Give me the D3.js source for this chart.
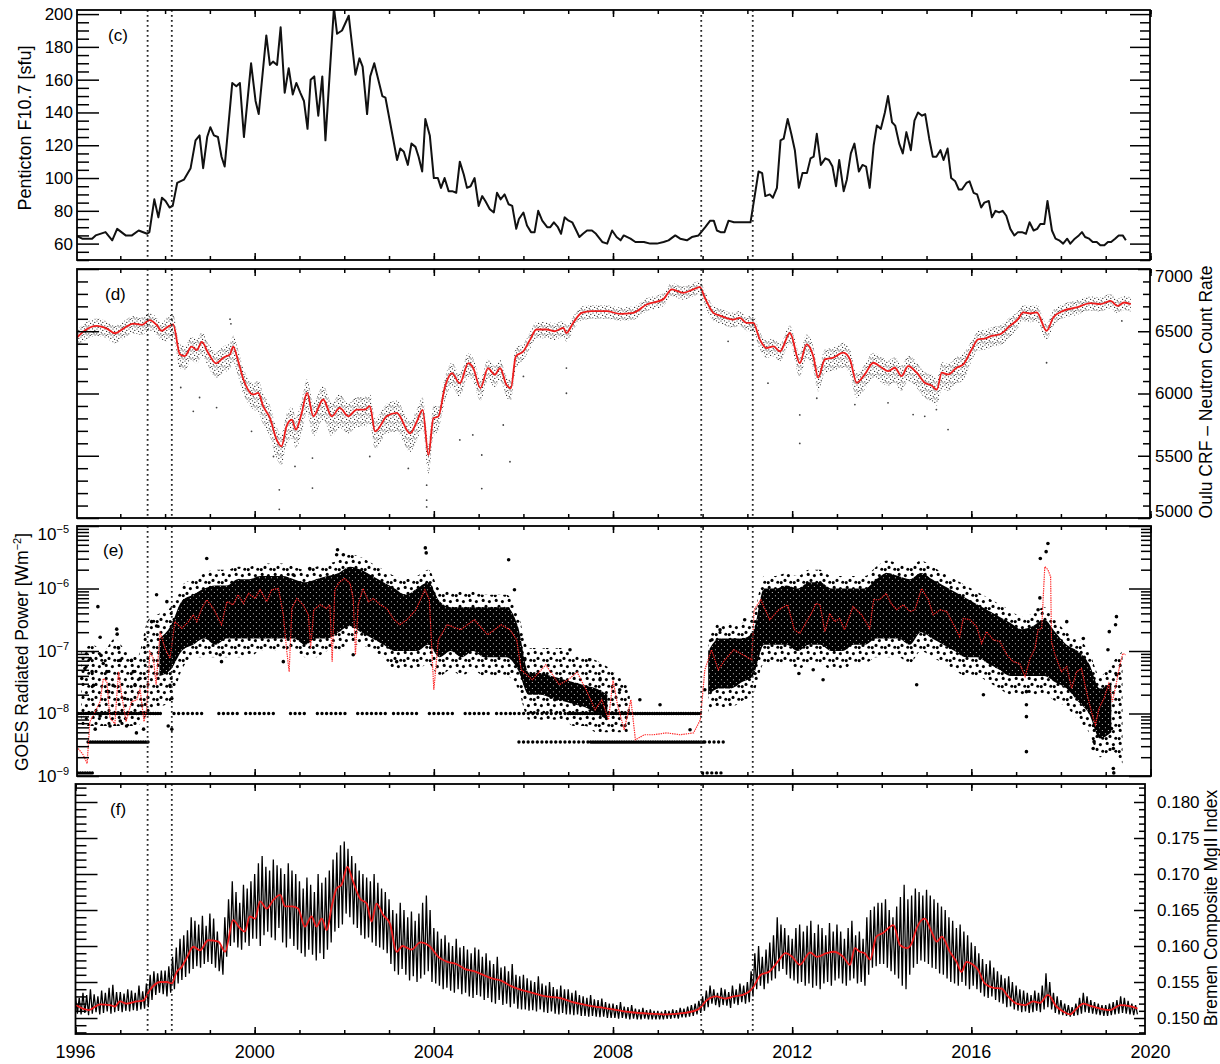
<!DOCTYPE html>
<html>
<head>
<meta charset="utf-8">
<script src="https://cdn.jsdelivr.net/npm/d3@7"></script>
<style>
  body { margin: 0; background: #fff; }
  text { font-family: "Liberation Sans", Arial, Helvetica, sans-serif; fill: #000; }
</style>
</head>
<body>
<svg id="chart" width="1220" height="1064"></svg>
<script>
// ---- data ----
const yearTicks = [1996, 2000, 2004, 2008, 2012, 2016, 2020];
const eventYears = [1997.61, 1998.15, 2009.97, 2011.12];

// (c) Penticton F10.7, monthly means [year, sfu]
const f107 = [
  [1996.00,65],[1996.15,63],[1996.37,63],[1996.45,65],[1996.67,67],[1996.82,62],[1996.93,69],[1997.12,65],[1997.26,65],[1997.41,68],
  [1997.60,66],[1997.65,67],[1997.76,87],[1997.85,76],[1997.93,88],[1998.01,86],[1998.10,82],[1998.17,83],[1998.27,97],[1998.42,99],
  [1998.57,106],[1998.68,123],[1998.77,126],[1998.85,106],[1998.94,125],[1999.01,131],[1999.09,126],[1999.18,125],[1999.26,113],[1999.33,107],
  [1999.50,158],[1999.59,156],[1999.67,158],[1999.76,125],[1999.92,170],[2000.02,147],[2000.09,139],[2000.26,187],[2000.34,169],[2000.41,171],
  [2000.50,169],[2000.58,192],[2000.67,152],[2000.76,167],[2000.85,151],[2000.93,158],[2001.02,152],[2001.10,147],[2001.18,130],[2001.25,160],
  [2001.33,162],[2001.42,138],[2001.51,162],[2001.58,123],[2001.77,204],[2001.84,188],[2001.95,190],[2002.10,199],[2002.25,163],[2002.34,173],
  [2002.41,168],[2002.51,139],[2002.58,162],[2002.67,170],[2002.85,150],[2002.92,149],[2003.18,111],[2003.25,118],[2003.33,116],[2003.42,108],
  [2003.50,121],[2003.59,119],[2003.66,113],[2003.74,104],[2003.81,136],[2003.91,126],[2004.00,100],[2004.09,100],[2004.16,94],[2004.24,100],
  [2004.33,92],[2004.41,92],[2004.50,91],[2004.58,110],[2004.67,102],[2004.74,94],[2004.82,95],[2004.91,100],[2005.00,83],[2005.08,89],
  [2005.15,86],[2005.25,81],[2005.34,79],[2005.41,91],[2005.49,87],[2005.58,90],[2005.67,84],[2005.75,83],[2005.84,69],[2005.90,75],
  [2006.00,79],[2006.08,71],[2006.17,67],[2006.25,67],[2006.33,80],[2006.42,74],[2006.53,70],[2006.60,70],[2006.68,73],[2006.77,70],
  [2006.84,66],[2006.92,76],[2007.01,74],[2007.09,73],[2007.18,68],[2007.25,64],[2007.33,66],[2007.42,68],[2007.53,68],[2007.62,66],
  [2007.76,61],[2007.87,60],[2007.98,68],[2008.08,64],[2008.17,62],[2008.24,65],[2008.39,63],[2008.50,61],[2008.69,61],[2008.83,60],
  [2008.98,60],[2009.13,61],[2009.24,62],[2009.39,65],[2009.50,63],[2009.65,62],[2009.76,64],[2009.91,65],[2010.06,70],[2010.17,74],
  [2010.25,74],[2010.32,68],[2010.40,67],[2010.49,67],[2010.58,74],[2010.70,73],[2010.88,73],[2010.98,73],[2011.07,73],[2011.14,85],
  [2011.25,104],[2011.33,103],[2011.40,89],[2011.50,90],[2011.57,88],[2011.66,94],[2011.74,123],[2011.81,124],[2011.90,136],[2011.98,127],
  [2012.06,117],[2012.15,94],[2012.23,103],[2012.33,103],[2012.41,112],[2012.48,113],[2012.55,127],[2012.64,108],[2012.74,112],[2012.82,111],
  [2012.90,107],[2012.98,95],[2013.05,111],[2013.15,92],[2013.22,99],[2013.31,115],[2013.39,121],[2013.49,104],[2013.57,108],[2013.65,107],
  [2013.73,94],[2013.82,120],[2013.89,132],[2013.98,130],[2014.07,140],[2014.14,150],[2014.23,134],[2014.30,132],[2014.39,121],[2014.47,115],
  [2014.55,128],[2014.65,117],[2014.73,135],[2014.81,140],[2014.90,138],[2014.97,139],[2015.06,124],[2015.14,113],[2015.22,113],[2015.31,117],
  [2015.38,111],[2015.47,118],[2015.55,100],[2015.64,98],[2015.72,93],[2015.79,93],[2015.89,97],[2015.96,98],[2016.05,91],[2016.13,90],
  [2016.22,82],[2016.29,85],[2016.39,86],[2016.46,76],[2016.54,80],[2016.62,79],[2016.70,80],[2016.78,77],[2016.87,69],[2016.96,65],
  [2017.04,67],[2017.13,67],[2017.22,66],[2017.30,73],[2017.39,68],[2017.47,69],[2017.54,72],[2017.63,72],[2017.70,86],[2017.80,68],
  [2017.88,63],[2017.96,62],[2018.05,60],[2018.14,63],[2018.21,60],[2018.31,63],[2018.40,65],[2018.47,67],[2018.54,64],[2018.63,63],
  [2018.71,61],[2018.80,61],[2018.88,59],[2018.97,59],[2019.05,61],[2019.12,61],[2019.21,63],[2019.29,65],[2019.38,65],[2019.45,62]
];

// (d) Oulu neutron monitor, smoothed count rate [year, counts]
const oulu = [
  [1996.03,6449],[1996.25,6516],[1996.47,6543],[1996.70,6521],[1996.88,6484],[1997.07,6521],[1997.29,6562],[1997.48,6551],[1997.65,6589],[1997.81,6551],
  [1997.92,6503],[1998.04,6530],[1998.18,6556],[1998.33,6315],[1998.44,6301],[1998.59,6376],[1998.71,6349],[1998.82,6414],[1998.96,6328],[1999.14,6242],
  [1999.30,6288],[1999.45,6315],[1999.52,6376],[1999.63,6261],[1999.75,6113],[1999.97,5992],[2000.08,6005],[2000.19,5898],[2000.34,5804],[2000.49,5629],
  [2000.60,5575],[2000.71,5736],[2000.83,5790],[2000.92,5710],[2001.05,5844],[2001.17,6005],[2001.31,5817],[2001.53,5952],[2001.72,5817],[2001.90,5884],
  [2002.09,5817],[2002.28,5871],[2002.46,5871],[2002.57,5898],[2002.69,5696],[2002.95,5817],[2003.17,5844],
  [2003.47,5680],[2003.62,5774],[2003.75,5868],[2003.88,5505],[2003.99,5801],[2004.10,5815],[2004.25,6056],[2004.40,6164],[2004.58,6083],[2004.77,6244],
  [2004.88,6204],[2005.04,6043],[2005.21,6204],[2005.36,6151],[2005.48,6204],[2005.62,6070],[2005.72,6043],[2005.83,6298],[2006.00,6339],[2006.15,6433],
  [2006.29,6514],[2006.52,6514],[2006.70,6500],[2006.89,6527],[2006.96,6486],[2007.11,6567],[2007.30,6648],[2007.52,6661],[2007.86,6661],[2008.15,6640],
  [2008.45,6648],[2008.75,6715],[2009.12,6756],[2009.31,6836],[2009.57,6809],[2009.79,6836],[2009.94,6855],[2010.05,6769],[2010.24,6648],[2010.42,6621],
  [2010.68,6594],[2010.83,6607],[2010.98,6567],[2011.13,6567],[2011.28,6433],[2011.43,6365],[2011.58,6379],[2011.73,6339],[2011.95,6486],[2012.17,6244],
  [2012.32,6395],[2012.47,6301],[2012.58,6127],[2012.73,6274],[2012.92,6288],[2013.14,6328],[2013.29,6274],[2013.44,6086],[2013.62,6153],[2013.81,6247],
  [2014.00,6207],[2014.14,6180],[2014.29,6207],[2014.44,6140],[2014.59,6220],[2014.78,6167],[2014.96,6086],[2015.11,6065],[2015.23,6032],[2015.34,6167],
  [2015.48,6153],[2015.67,6207],[2015.82,6234],[2016.01,6355],[2016.15,6435],[2016.30,6441],[2016.45,6462],[2016.64,6476],[2016.86,6543],[2017.04,6597],
  [2017.16,6651],[2017.31,6643],[2017.46,6651],[2017.68,6503],[2017.83,6610],[2018.05,6664],[2018.35,6691],[2018.66,6726],[2018.88,6718],[2019.11,6744],
  [2019.26,6704],[2019.41,6731],[2019.56,6718]
];
// spread of the daily cloud above / below the smoothed curve, per calendar year 1996..2019
const ouluSpreadUp   = [60,60,80,90,100,110,100,100,80,70,60,50,50,50,55,60,80,80,85,85,70,60,55,55];
const ouluSpreadDown = [80,80,110,120,150,160,140,150,110,100,70,60,55,55,65,80,110,120,120,130,90,70,60,60];
// isolated daily values well off the cloud
const ouluOutliers = [
  [1998.33,6220],[1998.35,6048],[1998.63,5857],[1998.77,5968],[1999.15,5887],[1999.45,6597],[1999.47,6560],[1999.93,5696],[2000.42,5494],[2000.55,5226],
  [2000.55,5070],[2000.90,5414],[2001.29,5481],[2001.29,5240],[2002.57,5494],[2003.43,5398],[2003.84,5143],[2003.84,5089],[2003.84,5264],[2004.58,5627],
  [2005.07,5506],[2005.07,5236],[2004.87,5667],[2005.70,5452],[2005.55,5747],[2006.96,6002],[2006.96,6204],[2006.00,6137],[2010.57,6419],[2011.46,6083],
  [2012.17,5599],[2012.17,5828],[2012.55,5962],[2013.40,5911],[2014.14,5925],[2014.70,5831],[2014.96,5817],[2015.48,5710],[2015.22,5871],[2017.68,6247],
  [2019.36,6583]
];

// (e) GOES radiated power, smoothed curve [year, log10 W m^-2]
const goesSmooth = [
  [1996.06,-8.56],[1996.17,-8.66],[1996.26,-8.80],[1996.32,-8.13],[1996.44,-7.97],[1996.55,-7.81],[1996.62,-7.44],[1996.70,-7.49],[1996.77,-8.08],[1996.88,-8.16],
  [1996.96,-7.33],[1997.03,-7.70],[1997.13,-8.13],[1997.25,-7.81],[1997.37,-7.78],[1997.44,-7.60],[1997.53,-8.13],[1997.59,-7.92],[1997.66,-7.01],[1997.74,-7.12],
  [1997.80,-7.54],[1997.89,-6.69],[1998.00,-6.96],[1998.11,-7.12],[1998.22,-6.53],[1998.37,-6.64],[1998.52,-6.53],[1998.63,-6.42],[1998.71,-6.53],[1998.82,-6.32],
  [1998.93,-6.18],[1999.08,-6.32],[1999.26,-6.58],[1999.38,-6.21],[1999.52,-6.26],[1999.63,-6.10],[1999.75,-6.24],[1999.86,-6.08],[2000.01,-6.16],[2000.12,-6.02],
  [2000.27,-6.21],[2000.38,-6.02],[2000.53,-6.00],[2000.64,-6.42],[2000.71,-6.96],[2000.77,-7.33],[2000.83,-6.32],[2000.94,-6.16],[2001.08,-6.26],[2001.20,-6.42],
  [2001.25,-6.96],[2001.32,-6.34],[2001.46,-6.26],[2001.61,-6.32],[2001.68,-6.26],[2001.73,-7.17],[2001.79,-6.02],[2001.90,-5.89],[2002.01,-5.84],[2002.13,-5.92],
  [2002.20,-6.16],[2002.25,-7.06],[2002.31,-6.26],[2002.42,-6.00],[2002.54,-6.21],[2002.65,-6.16],[2002.80,-6.26],[2002.95,-6.32],[2003.09,-6.48],[2003.24,-6.58],
  [2003.40,-6.50],[2003.60,-6.34],[2003.80,-6.02],[2003.90,-6.18],[2004.00,-7.62],[2004.10,-6.82],[2004.30,-6.58],[2004.60,-6.66],[2004.90,-6.50],[2005.20,-6.74],
  [2005.50,-6.58],[2005.70,-6.66],[2005.85,-6.82],[2005.95,-7.30],[2006.20,-7.46],[2006.50,-7.22],[2006.80,-7.54],[2007.00,-7.46],[2007.20,-7.34],[2007.40,-7.62],
  [2007.60,-7.94],[2007.75,-7.78],[2007.90,-8.10],[2008.00,-7.46],[2008.10,-7.86],[2008.25,-8.26],[2008.40,-7.78],[2008.50,-8.42],[2008.70,-8.34],[2008.90,-8.34],
  [2009.20,-8.31],[2009.50,-8.34],[2009.80,-8.31],[2009.95,-8.10],[2010.05,-7.30],[2010.20,-6.98],[2010.35,-7.30],[2010.50,-7.14],[2010.70,-6.98],[2010.90,-7.06],
  [2011.10,-7.14],[2011.15,-6.34],[2011.30,-6.18],[2011.50,-6.50],[2011.70,-6.34],[2011.90,-6.26],[2012.05,-6.66],[2012.17,-6.72],[2012.32,-6.53],[2012.43,-6.40],
  [2012.53,-6.24],[2012.62,-6.26],[2012.73,-6.69],[2012.84,-6.40],[2012.95,-6.53],[2013.06,-6.48],[2013.17,-6.66],[2013.36,-6.29],[2013.55,-6.42],[2013.73,-6.64],
  [2013.82,-6.18],[2013.95,-6.18],[2014.10,-6.08],[2014.21,-6.24],[2014.33,-6.34],[2014.48,-6.26],[2014.63,-6.37],[2014.74,-6.34],[2014.89,-6.00],[2015.04,-6.18],
  [2015.15,-6.42],[2015.30,-6.34],[2015.45,-6.37],[2015.59,-6.56],[2015.74,-6.77],[2015.82,-6.48],[2015.97,-6.50],[2016.12,-6.61],[2016.23,-6.88],[2016.34,-6.69],
  [2016.49,-6.82],[2016.64,-6.85],[2016.79,-7.06],[2016.93,-7.17],[2017.08,-7.20],[2017.20,-7.41],[2017.31,-7.12],[2017.42,-6.96],[2017.49,-6.66],[2017.57,-6.64],
  [2017.64,-5.65],[2017.71,-5.70],[2017.77,-5.81],[2017.79,-6.85],[2017.87,-7.06],[2018.01,-7.33],[2018.13,-7.25],[2018.24,-7.60],[2018.35,-7.33],[2018.46,-7.28],
  [2018.57,-7.65],[2018.68,-7.97],[2018.77,-8.18],[2018.85,-7.92],[2018.96,-7.76],[2019.07,-7.52],[2019.15,-7.81],[2019.23,-7.54],[2019.30,-7.28],[2019.38,-7.04],
  [2019.45,-7.06]
];
// daily cloud per quarter from 1996 Q1 (log10): thin outer fringe and dense core; null = none
const goesOuterLo = [
  -8.2,-8.2,-8.2,-8.2, -8.2,-8.2,-8.0,-7.9, -7.8,-7.3,-7.1,-7.1, -7.1,-7.1,-7.1,-7.1, -7.0,-7.0,-7.0,-7.0, -7.1,-7.1,-7.0,-7.0,
  -6.9,-6.9,-7.0,-7.1, -7.3,-7.3,-7.3,-7.2, -7.4,-7.3,-7.4,-7.3, -7.4,-7.4,-7.4,-7.6, -8.1,-8.1,-8.1,-8.1, -8.2,-8.2,-8.3,-8.3,
  -8.3,-8.3,null,null, null,null,null,null, -8.0,-7.9,-7.9,-7.8, -7.7,-7.2,-7.2,-7.2, -7.3,-7.2,-7.2,-7.3, -7.3,-7.2,-7.2,-7.1,
  -7.1,-7.1,-7.2,-7.0, -7.1,-7.2,-7.3,-7.4, -7.4,-7.5,-7.6,-7.7, -7.7,-7.7,-7.7,-7.8, -7.9,-8.1,-8.3,-8.7, -8.6,-8.8
];
const goesOuterHi = [
  -7.0,-6.9,-7.0,-6.8, -7.0,-7.1,-6.5,-6.4, -6.3,-5.95,-5.85,-5.75, -5.7,-5.7,-5.65,-5.65, -5.6,-5.6,-5.6,-5.65, -5.7,-5.65,-5.6,-5.55,
  -5.45,-5.5,-5.6,-5.7, -5.8,-5.85,-5.8,-5.7, -6.0,-6.05,-6.05,-6.05, -6.1,-6.1,-6.1,-6.4, -6.95,-6.95,-6.95,-6.95, -7.05,-7.1,-7.15,-7.25,
  -7.4,-7.6,null,null, null,null,null,null, -6.75,-6.55,-6.55,-6.55, -6.45,-5.8,-5.8,-5.75, -5.8,-5.7,-5.7,-5.8, -5.8,-5.8,-5.8,-5.65,
  -5.55,-5.6,-5.65,-5.55, -5.65,-5.75,-5.85,-5.95, -6.05,-6.15,-6.25,-6.35, -6.45,-6.4,-6.3,-6.5, -6.7,-6.8,-7.0,-7.4, -7.2,-7.0
];
const goesCoreLo = [
  null,null,null,null, null,null,null,-7.4, -7.3,-7.0,-6.9,-6.8, -6.9,-6.8,-6.8,-6.8, -6.8,-6.8,-6.8,-6.8, -6.9,-6.8,-6.8,-6.7,
  -6.6,-6.7,-6.8,-6.9, -7.0,-7.0,-7.0,-6.9, -7.1,-7.0,-7.1,-7.0, -7.1,-7.1,-7.1,-7.3, -7.7,-7.7,-7.75,-7.8, -7.85,-7.9,-8.0,-8.1,
  null,null,null,null, null,null,null,null, -7.7,-7.6,-7.6,-7.5, -7.4,-6.9,-6.9,-6.9, -7.0,-6.9,-6.9,-7.0, -7.0,-6.9,-6.9,-6.8,
  -6.8,-6.8,-6.9,-6.7, -6.8,-6.9,-7.0,-7.1, -7.1,-7.2,-7.3,-7.4, -7.4,-7.4,-7.4,-7.5, -7.6,-7.8,-8.0,-8.4, -8.3,null
];
const goesCoreHi = [
  null,null,null,null, null,null,null,-6.8, -6.6,-6.2,-6.1,-6.0, -5.95,-5.95,-5.85,-5.85, -5.8,-5.8,-5.8,-5.85, -5.9,-5.85,-5.8,-5.75,
  -5.65,-5.7,-5.8,-5.9, -6.0,-6.1,-6.0,-5.9, -6.2,-6.3,-6.3,-6.3, -6.3,-6.3,-6.3,-6.6, -7.35,-7.35,-7.4,-7.45, -7.5,-7.55,-7.6,-7.7,
  null,null,null,null, null,null,null,null, -7.0,-6.8,-6.8,-6.8, -6.7,-6.0,-6.0,-5.95, -6.0,-5.9,-5.9,-6.0, -6.0,-6.0,-6.0,-5.85,
  -5.75,-5.8,-5.85,-5.75, -5.85,-5.95,-6.05,-6.15, -6.25,-6.35,-6.45,-6.55, -6.65,-6.6,-6.5,-6.7, -6.9,-7.0,-7.2,-7.6, -7.5,null
];
// scattered daily values outside the dense cloud [year, log10]
const goesScatter = [
  [1996.50,-6.29],[1996.55,-6.78],[1996.57,-7.07],[1996.33,-7.12],[1996.37,-7.33],[1996.40,-7.55],[1996.62,-7.20],[1996.70,-7.33],[1996.74,-7.65],[1996.92,-6.65],
  [1996.93,-6.73],[1996.96,-6.95],[1997.00,-7.15],[1996.84,-7.55],[1997.10,-7.76],[1997.25,-7.15],[1997.29,-7.33],[1997.33,-7.55],[1997.44,-7.44],[1997.48,-7.87],
  [1997.14,-8.20],[1996.77,-8.20],[1996.55,-8.04],[1996.44,-8.25],[1997.52,-8.25],[1997.36,-8.31],[1997.00,-8.12],[1996.14,-7.44],[1996.21,-7.28],[1997.81,-6.10],
  [1997.70,-6.53],[1997.81,-6.60],[1998.04,-6.21],[1998.11,-7.55],[1998.15,-7.76],[1998.07,-8.20],[1998.15,-8.25],[1998.93,-5.52],[2000.86,-5.78],[2001.23,-5.68],
  [2001.83,-5.46],[2001.98,-5.46],[2001.85,-5.38],[1999.23,-7.06],[1999.26,-7.17],[2002.20,-7.06],[2003.17,-7.17],[2000.64,-7.17],[2003.81,-5.35],[2003.83,-5.43],
  [2005.67,-5.54],[2005.80,-6.02],[2006.03,-7.14],[2006.37,-7.62],[2006.70,-7.78],[2007.04,-6.98],[2007.48,-7.14],[2007.71,-7.46],[2008.15,-7.62],[2008.60,-7.78],
  [2009.05,-7.86],[2009.72,-8.26],[2010.05,-7.62],[2010.21,-6.82],[2010.39,-6.66],[2010.72,-6.82],[2010.94,-6.50],[2017.71,-5.28],[2017.54,-5.52],[2017.67,-5.41],
  [2017.53,-6.15],[2017.49,-6.34],[2017.23,-7.65],[2017.23,-7.86],[2017.23,-8.05],[2017.23,-8.61],[2014.78,-7.54],[2016.27,-7.70],[2012.69,-7.46],[2012.47,-7.30],
  [2012.15,-7.36],[2019.24,-6.45],[2019.22,-6.58],[2019.08,-6.69],[2019.05,-6.98],[2019.24,-7.38],[2019.13,-8.24],[2019.17,-8.56],[2019.17,-8.88],[2019.18,-8.95],
  [2018.72,-8.56],[2018.74,-8.45],[2018.13,-6.53],[2018.50,-6.80],[2018.52,-7.10]
];
// rows of values sitting on the instrument floor [from, to, log10]
const goesFloorDense = [
  [1996.02,1997.90,-8.0],[1996.28,1997.62,-8.456],[1996.00,1996.40,-8.95],[2007.00,2010.00,-8.0],[2007.50,2010.05,-8.456]
];
const goesFloorSparse = [
  [1998.20,1998.90,-8.0],[1999.20,1999.70,-8.0],[1999.80,2000.50,-8.0],[2000.80,2001.20,-8.0],[2001.40,2002.10,-8.0],[2002.30,2003.00,-8.0],
  [2003.10,2003.70,-8.0],[2003.90,2004.50,-8.0],[2004.70,2005.30,-8.0],[2005.40,2005.80,-8.0],[2005.80,2007.00,-8.0],[2005.90,2007.50,-8.456],
  [2010.05,2010.50,-8.456],[2010.00,2010.45,-8.95]
];

// (f) Bremen composite Mg II index: smoothed [year, index]
const mgSmooth = [
  [1996.01,.1518],[1996.29,.1511],[1996.55,.1519],[1996.77,.1518],[1996.88,.1516],[1996.99,.1523],[1997.14,.1520],[1997.37,.1523],[1997.51,.1524],[1997.66,.1539],
  [1997.89,.1550],[1998.04,.1550],[1998.15,.1548],[1998.26,.1564],[1998.37,.1571],[1998.48,.1583],[1998.63,.1599],[1998.78,.1594],[1998.96,.1608],[1999.19,.1606],
  [1999.34,.1592],[1999.52,.1636],[1999.67,.1625],[1999.78,.1620],[1999.89,.1641],[2000.01,.1638],[2000.12,.1662],[2000.27,.1652],[2000.42,.1664],[2000.57,.1671],
  [2000.68,.1655],[2000.83,.1655],[2000.97,.1652],[2001.12,.1627],[2001.27,.1641],[2001.38,.1627],[2001.50,.1638],[2001.61,.1622],[2001.72,.1655],[2001.83,.1680],
  [2001.94,.1685],[2002.07,.1710],[2002.20,.1689],[2002.35,.1666],[2002.50,.1659],[2002.61,.1634],[2002.72,.1659],[2002.87,.1643],[2003.02,.1631],[2003.17,.1592],
  [2003.30,.1600],[2003.50,.1595],[2003.70,.1605],[2003.90,.1600],[2004.10,.1585],[2004.30,.1578],[2004.50,.1575],[2004.70,.1568],[2004.90,.1565],[2005.10,.1560],
  [2005.30,.1555],[2005.50,.1552],[2005.70,.1545],[2005.90,.1540],[2006.20,.1535],[2006.50,.1530],[2006.80,.1528],[2007.10,.1522],[2007.40,.1518],[2007.70,.1515],
  [2008.00,.1512],[2008.40,.1508],[2008.80,.1506],[2009.20,.1505],[2009.60,.1507],[2009.90,.1512],[2010.10,.1525],[2010.30,.1530],[2010.50,.1527],[2010.70,.1530],
  [2010.90,.1532],[2011.10,.1540],[2011.30,.1560],[2011.50,.1565],[2011.70,.1580],[2011.85,.1590],[2012.00,.1585],[2012.17,.1574],[2012.40,.1591],[2012.55,.1585],
  [2012.77,.1590],[2012.92,.1592],[2013.14,.1585],[2013.29,.1574],[2013.40,.1597],[2013.51,.1592],[2013.62,.1590],[2013.74,.1581],[2013.88,.1613],[2014.03,.1618],
  [2014.26,.1629],[2014.41,.1601],[2014.56,.1597],[2014.67,.1604],[2014.78,.1625],[2014.96,.1638],[2015.11,.1620],[2015.23,.1606],[2015.34,.1613],[2015.52,.1592],
  [2015.67,.1578],[2015.78,.1564],[2015.89,.1578],[2016.04,.1574],[2016.15,.1567],[2016.30,.1548],[2016.49,.1542],[2016.67,.1541],[2016.82,.1530],[2017.01,.1520],
  [2017.20,.1518],[2017.38,.1523],[2017.53,.1521],[2017.71,.1532],[2017.90,.1516],[2018.05,.1509],[2018.20,.1505],[2018.35,.1513],[2018.50,.1520],[2018.65,.1517],
  [2018.88,.1513],[2019.10,.1511],[2019.33,.1518],[2019.56,.1516],[2019.71,.1513]
];
// rotational maxima / minima, one pair per month from Jan 1996 (units of 1e-4)
const mgMonthHi = [
  1530,1528,1535,1532,1540,1533,1530,1538,1535,1542,1546,1536, 1536,1534,1540,1538,1535,1545,1537,1548,1560,1565,1562,1566,
  1566,1572,1585,1598,1610,1615,1622,1640,1635,1630,1642,1628, 1645,1638,1620,1600,1640,1665,1690,1675,1660,1685,1680,1690,
  1700,1715,1725,1710,1705,1720,1712,1708,1700,1715,1705,1700, 1690,1680,1695,1685,1675,1700,1688,1695,1705,1720,1730,1740,
  1745,1735,1725,1715,1705,1700,1695,1690,1700,1688,1680,1675, 1665,1650,1645,1660,1650,1640,1648,1635,1645,1660,1670,1650,
  1625,1620,1610,1615,1605,1600,1610,1598,1600,1595,1590,1598, 1595,1585,1590,1580,1575,1585,1570,1572,1565,1575,1560,1558,
  1560,1555,1552,1550,1558,1548,1545,1550,1543,1540,1545,1540, 1540,1535,1538,1532,1530,1528,1532,1526,1525,1527,1522,1520,
  1520,1518,1522,1516,1515,1518,1513,1512,1514,1511,1512,1510, 1510,1509,1511,1510,1512,1511,1514,1513,1516,1518,1520,1524,
  1530,1538,1545,1540,1535,1542,1540,1536,1545,1540,1548,1545, 1550,1565,1590,1600,1585,1595,1605,1615,1640,1630,1625,1615,
  1610,1625,1630,1620,1628,1635,1618,1630,1625,1615,1632,1620, 1630,1620,1610,1625,1635,1615,1620,1610,1640,1650,1655,1660,
  1660,1665,1650,1640,1655,1668,1685,1665,1670,1680,1675,1670, 1678,1670,1665,1660,1655,1650,1640,1635,1625,1630,1620,1615,
  1605,1600,1590,1582,1575,1580,1570,1565,1560,1555,1558,1550, 1545,1540,1538,1535,1532,1538,1535,1545,1562,1550,1535,1530,
  1525,1520,1518,1515,1520,1528,1535,1530,1525,1522,1520,1518, 1518,1520,1522,1525,1530,1528,1524,1520,1518
];
const mgMonthLo = [
  1506,1505,1507,1504,1506,1508,1505,1507,1509,1506,1508,1510, 1508,1510,1509,1511,1510,1512,1513,1515,1525,1532,1535,1533,
  1530,1535,1540,1548,1553,1557,1562,1568,1572,1570,1575,1578, 1575,1570,1565,1560,1585,1600,1605,1598,1595,1605,1600,1610,
  1610,1600,1615,1620,1612,1608,1625,1605,1598,1610,1600,1595, 1590,1585,1595,1588,1580,1590,1582,1595,1605,1620,1625,1630,
  1645,1640,1630,1625,1615,1610,1612,1605,1600,1598,1595,1590, 1575,1565,1560,1568,1560,1552,1558,1550,1555,1560,1565,1550,
  1548,1545,1540,1542,1538,1535,1540,1533,1535,1530,1528,1532, 1530,1525,1528,1522,1520,1525,1518,1520,1515,1520,1513,1512,
  1512,1510,1511,1509,1512,1508,1507,1509,1506,1505,1507,1505, 1505,1504,1505,1503,1503,1502,1503,1502,1501,1502,1500,1500,
  1500,1499,1500,1499,1498,1499,1498,1498,1499,1498,1498,1498, 1498,1498,1499,1499,1500,1499,1501,1501,1502,1503,1505,1507,
  1510,1515,1520,1518,1515,1518,1517,1514,1520,1518,1522,1520, 1522,1530,1540,1545,1540,1548,1552,1555,1565,1568,1560,1555,
  1552,1548,1550,1545,1548,1542,1545,1540,1548,1550,1545,1552, 1555,1548,1545,1552,1555,1548,1550,1545,1560,1570,1572,1575,
  1575,1570,1565,1560,1555,1545,1540,1560,1570,1575,1580,1578, 1575,1570,1568,1562,1560,1555,1550,1548,1545,1550,1545,1540,
  1545,1540,1535,1530,1528,1530,1525,1522,1520,1515,1516,1512, 1510,1508,1509,1507,1508,1510,1508,1512,1515,1512,1507,1505,
  1504,1503,1502,1503,1504,1506,1508,1507,1506,1505,1504,1503, 1503,1504,1505,1506,1507,1506,1505,1504,1505
];

// ---- layout ----
const svg = d3.select('#chart');
const defs = svg.append('defs');

const P = {
  c: {top: 10,  bottom: 260,  left: 77,   right: 1150},
  d: {top: 269, bottom: 518,  left: 77,   right: 1150},
  e: {top: 526, bottom: 776,  left: 77,   right: 1151},
  f: {top: 784, bottom: 1034, left: 75.5, right: 1145}
};

const x = d3.scaleLinear().domain([1996, 2020]).range([75.5, 1150.5]);
const yC = d3.scaleLinear().domain([50, 202.5]).range([P.c.bottom, P.c.top]);
const yD = d3.scaleLinear().domain([5000, 7000]).range([P.d.bottom, P.d.top]);
const yE = d3.scaleLog().domain([1e-9, 1e-5]).range([P.e.bottom, P.e.top]);
const yF = d3.scaleLinear().domain([0.14778, 0.1825]).range([P.f.bottom, P.f.top]);

// dot textures standing in for the dense daily clouds
function texture(id, size, bg, dots, r, fill) {
  const pat = defs.append('pattern').attr('id', id).attr('width', size).attr('height', size)
    .attr('patternUnits', 'userSpaceOnUse');
  if (bg) pat.append('rect').attr('width', size).attr('height', size).attr('fill', bg);
  pat.selectAll('circle').data(dots).join('circle')
    .attr('cx', d => d[0]).attr('cy', d => d[1]).attr('r', r).attr('fill', fill);
}
texture('texD', 8, null, [[1,1],[4.5,0.8],[6.8,2.4],[2.6,3.4],[5.2,4.3],[0.8,5.8],[3.8,6.5],[7.1,7.0],[2.2,7.4],[6.0,5.8]], 0.62, '#262626');
texture('texCore', 6, '#000', [[1.4,1.8],[4.3,4.6]], 0.5, '#fff');
texture('texOuter', 13, null, [[2.2,2.4],[8.4,3.6],[5.0,8.4],[10.8,10.2],[1.2,10.6]], 1.55, '#000');

Object.entries(P).forEach(([k, p]) => {
  defs.append('clipPath').attr('id', 'clip-' + k)
    .append('rect').attr('x', p.left).attr('y', p.top)
    .attr('width', p.right - p.left).attr('height', p.bottom - p.top);
});

function clean(a) {
  a.select('.domain').remove();
  a.selectAll('line').attr('stroke', '#000').attr('stroke-width', 1.5);
}

function yAxis(p, scale, values, side, len, labels, fmt, pad) {
  const ax = (side === 'left' ? d3.axisLeft(scale) : d3.axisRight(scale))
    .tickValues(values).tickSize(-len).tickPadding(pad || 5)
    .tickFormat(labels ? fmt : '');
  const g = svg.append('g')
    .attr('transform', `translate(${side === 'left' ? p.left : p.right},0)`)
    .call(ax).call(clean);
  g.selectAll('text').attr('font-size', 17).attr('fill', '#000');
  return g;
}

function frame(key, yScale, major, minor, lens, labelSide, fmt, pad) {
  const p = P[key];
  const inX = v => x(v) >= p.left - 0.5 && x(v) <= p.right + 0.5;
  const yrs = d3.range(1996, 2021).filter(inX);
  const yrsMaj = yrs.filter(v => (v - 1996) % 4 === 0);
  [[d3.axisTop, p.top], [d3.axisBottom, p.bottom]].forEach(([axis, yy]) => {
    svg.append('g').attr('transform', `translate(0,${yy})`)
      .call(axis(x).tickValues(yrs).tickSize(-4).tickFormat('')).call(clean);
    svg.append('g').attr('transform', `translate(0,${yy})`)
      .call(axis(x).tickValues(yrsMaj).tickSize(-7).tickFormat('')).call(clean);
  });
  const other = labelSide === 'left' ? 'right' : 'left';
  yAxis(p, yScale, minor, labelSide, lens.labMin, false);
  const g = yAxis(p, yScale, major, labelSide, lens.labMaj, true, fmt, pad);
  yAxis(p, yScale, minor, other, lens.othMin, false);
  yAxis(p, yScale, major, other, lens.othMaj, false);
  svg.append('rect').attr('x', p.left).attr('y', p.top)
    .attr('width', p.right - p.left).attr('height', p.bottom - p.top)
    .attr('fill', 'none').attr('stroke', '#000').attr('stroke-width', 1.8);
  return g;
}

function eventLines(key) {
  const p = P[key];
  svg.append('g').selectAll('line').data(eventYears).join('line')
    .attr('x1', d => x(d)).attr('x2', d => x(d))
    .attr('y1', p.top).attr('y2', p.bottom)
    .attr('stroke', '#222').attr('stroke-width', 1.8)
    .attr('stroke-dasharray', '1.8,3.2');
}

function panelLabel(txt, px, py) {
  svg.append('text').attr('x', px).attr('y', py).attr('font-size', 17).text(txt);
}

function yTitle(txt, px, py, size) {
  return svg.append('text').attr('transform', `translate(${px},${py}) rotate(-90)`)
    .attr('text-anchor', 'middle').attr('font-size', size || 17.5).text(txt);
}

const notIn = majors => v => !majors.some(m => Math.abs(m - v) < 1e-9);

// ---- (c) F10.7 ----
{
  const major = d3.range(60, 201, 20);
  const minor = d3.range(50, 201, 5).filter(notIn(major));
  const gc = svg.append('g').attr('clip-path', 'url(#clip-c)');
  gc.append('path').datum(f107)
    .attr('d', d3.line().x(d => x(d[0])).y(d => yC(d[1])))
    .attr('fill', 'none').attr('stroke', '#111').attr('stroke-width', 2).attr('stroke-linejoin', 'round');
  eventLines('c');
  frame('c', yC, major, minor, {labMaj: 22, labMin: 12, othMaj: 20, othMin: 10}, 'left', d3.format('d'), 4);
  panelLabel('(c)', 108, 41);
  yTitle('Penticton F10.7 [sfu]', 31, 128, 18);
}

// ---- (d) Oulu neutron monitor ----
{
  const major = d3.range(5000, 7001, 500);
  const minor = d3.range(5000, 7001, 100).filter(notIn(major));
  const yi = t => Math.min(23, Math.max(0, Math.floor(t - 1996)));
  const gd = svg.append('g').attr('clip-path', 'url(#clip-d)');
  gd.append('path').datum(oulu)
    .attr('d', d3.area().curve(d3.curveMonotoneX)
      .x(d => x(d[0]))
      .y0(d => yD(d[1] - ouluSpreadDown[yi(d[0])]))
      .y1(d => yD(d[1] + ouluSpreadUp[yi(d[0])])))
    .attr('fill', 'url(#texD)');
  gd.selectAll('circle').data(ouluOutliers).join('circle')
    .attr('cx', d => x(d[0])).attr('cy', d => yD(d[1])).attr('r', 0.9).attr('fill', '#444');
  gd.append('path').datum(oulu)
    .attr('d', d3.line().curve(d3.curveMonotoneX).x(d => x(d[0])).y(d => yD(d[1])))
    .attr('fill', 'none').attr('stroke', '#ee1c1c').attr('stroke-width', 1.8);
  eventLines('d');
  const g = frame('d', yD, major, minor, {labMaj: 12, labMin: 7, othMaj: 22, othMin: 11}, 'right', d3.format('d'), 5);
  g.selectAll('.tick text').attr('dy', d => d === 7000 ? '0.75em' : d === 5000 ? '-0.1em' : '0.32em');
  panelLabel('(d)', 105, 300);
  yTitle('Oulu CRF \u2013 Neutron Count Rate', 1212, 392, 17.5);
}

// ---- (e) GOES radiated power ----
{
  const major = [1e-9, 1e-8, 1e-7, 1e-6, 1e-5];
  const minor = [];
  [-9, -8, -7, -6].forEach(n => d3.range(2, 10).forEach(k => minor.push(k * Math.pow(10, n))));
  const pw = v => Math.pow(10, v);
  const qt = i => 1996 + (i + 0.5) / 4;
  const ge = svg.append('g').attr('clip-path', 'url(#clip-e)');
  const band = (lo, hi, fill) => ge.append('path')
    .datum(lo.map((v, i) => [qt(i), v, hi[i]]))
    .attr('d', d3.area().curve(d3.curveMonotoneX).defined(d => d[1] !== null)
      .x(d => x(d[0])).y0(d => yE(pw(d[1]))).y1(d => yE(pw(d[2]))))
    .attr('fill', fill);
  band(goesOuterLo, goesOuterHi, 'url(#texOuter)');
  band(goesCoreLo, goesCoreHi, 'url(#texCore)');
  const floorLine = (data, gap) => ge.append('g').selectAll('line').data(data).join('line')
    .attr('x1', d => x(d[0])).attr('x2', d => x(d[1]))
    .attr('y1', d => yE(pw(d[2]))).attr('y2', d => yE(pw(d[2])))
    .attr('stroke', '#000').attr('stroke-width', 3.4).attr('stroke-linecap', 'round')
    .attr('stroke-dasharray', `0,${gap}`);
  floorLine(goesFloorDense, 2.4);
  floorLine(goesFloorSparse, 4.6);
  ge.append('g').selectAll('circle').data(goesScatter).join('circle')
    .attr('cx', d => x(d[0])).attr('cy', d => yE(pw(d[1]))).attr('r', 1.8).attr('fill', '#000');
  ge.append('path').datum(goesSmooth)
    .attr('d', d3.line().x(d => x(d[0])).y(d => yE(pw(d[1]))))
    .attr('fill', 'none').attr('stroke', '#ff2a2a').attr('stroke-width', 1.2)
    .attr('stroke-dasharray', '1.4,0.9');
  eventLines('e');
  const g = frame('e', yE, major, minor, {labMaj: 22, labMin: 12, othMaj: 22, othMin: 10}, 'left', () => '', 8);
  g.selectAll('.tick text').each(function (d) {
    const t = d3.select(this).attr('dy', d === 1e-5 ? '0.8em' : '0.32em');
    t.append('tspan').text('10');
    t.append('tspan').attr('dy', -7).attr('font-size', 11).text('\u2212' + Math.round(-Math.log10(d)));
  });
  panelLabel('(e)', 103, 556);
  const tt = yTitle('', 28, 652, 17.5);
  tt.append('tspan').text('GOES Radiated Power [Wm');
  tt.append('tspan').attr('dy', -7).attr('font-size', 11).text('\u22122');
  tt.append('tspan').attr('dy', 7).text(']');
}

// ---- (f) Mg II index ----
{
  const major = d3.range(0.150, 0.1801, 0.005).map(v => +v.toFixed(3));
  const minor = d3.range(148, 183).map(v => v / 1000).filter(notIn(major));
  const gf = svg.append('g').attr('clip-path', 'url(#clip-f)');
  const zig = [];
  mgMonthHi.forEach((hi, i) => {
    const t = 1996 + i / 12;
    zig.push([t, hi / 1e4]);
    if (mgMonthLo[i] !== undefined) zig.push([t + 1 / 24, mgMonthLo[i] / 1e4]);
  });
  gf.append('path').datum(zig)
    .attr('d', d3.line().x(d => x(d[0])).y(d => yF(d[1])))
    .attr('fill', 'none').attr('stroke', '#000').attr('stroke-width', 1.3);
  gf.append('path').datum(mgSmooth)
    .attr('d', d3.line().curve(d3.curveMonotoneX).x(d => x(d[0])).y(d => yF(d[1])))
    .attr('fill', 'none').attr('stroke', '#ee1c1c').attr('stroke-width', 1.8);
  eventLines('f');
  frame('f', yF, major, minor, {labMaj: 11, labMin: 6, othMaj: 22, othMin: 11}, 'right', d3.format('.3f'), 12);
  panelLabel('(f)', 110, 815);
  yTitle('Bremen Composite MgII Index', 1217, 908, 17.5);

  svg.append('g').selectAll('text').data(yearTicks).join('text')
    .attr('x', d => x(d)).attr('y', 1058).attr('text-anchor', 'middle')
    .attr('font-size', 18).text(d => d);
}
</script>
</body>
</html>
